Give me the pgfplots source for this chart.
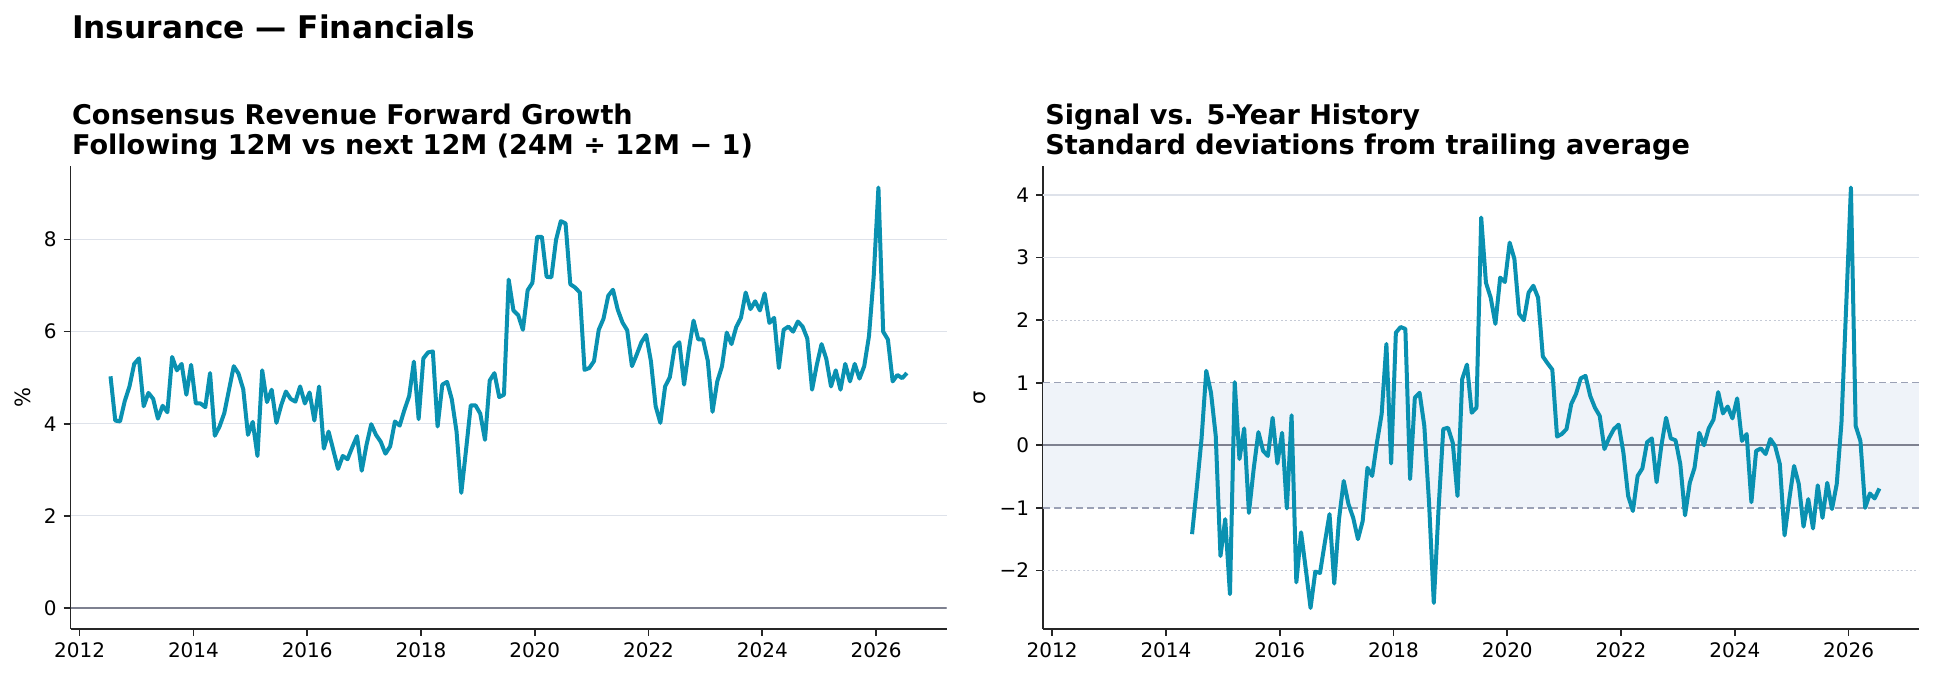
\documentclass[border=0pt]{standalone}
\usepackage{fontspec}
\setmainfont{DejaVu Sans}
\usepackage{pgfplots}
\usepackage{pgfplotstable}
\pgfplotsset{compat=1.18}
\definecolor{linecol}{HTML}{0A91B1}
\definecolor{gridcol}{HTML}{DEE2EA}
\definecolor{zerocol}{HTML}{7E8190}
\definecolor{bandcol}{HTML}{EFF3F9}
\definecolor{dashcol}{HTML}{9BA1B5}
\definecolor{dotcol}{HTML}{C5CAD6}
\definecolor{spinecol}{HTML}{262626}

% monthly values, first month = Jul 2012
\pgfplotstableread{
v
5.03
4.07
4.05
4.49
4.81
5.30
5.42
4.38
4.67
4.54
4.11
4.39
4.25
5.45
5.16
5.30
4.63
5.28
4.44
4.44
4.36
5.10
3.74
3.94
4.23
4.74
5.25
5.09
4.75
3.76
4.04
3.30
5.16
4.47
4.74
4.02
4.40
4.70
4.54
4.48
4.81
4.44
4.68
4.07
4.81
3.46
3.83
3.43
3.02
3.30
3.23
3.49
3.73
2.98
3.54
3.99
3.76
3.61
3.35
3.51
4.05
3.96
4.30
4.60
5.35
4.10
5.42
5.55
5.57
3.94
4.85
4.91
4.53
3.83
2.50
3.43
4.40
4.40
4.22
3.65
4.94
5.10
4.58
4.63
7.13
6.46
6.36
6.04
6.90
7.06
8.06
8.06
7.19
7.18
8.00
8.40
8.35
7.03
6.96
6.85
5.17
5.21
5.36
6.04
6.28
6.78
6.91
6.48
6.20
6.03
5.25
5.50
5.77
5.93
5.36
4.38
4.02
4.81
5.01
5.66
5.77
4.85
5.61
6.24
5.83
5.83
5.37
4.26
4.92
5.25
5.98
5.73
6.10
6.30
6.85
6.49
6.66
6.46
6.83
6.19
6.30
5.21
6.04
6.11
6.00
6.22
6.11
5.85
4.74
5.28
5.73
5.41
4.81
5.16
4.74
5.30
4.92
5.30
4.98
5.25
5.90
7.20
9.13
6.00
5.83
4.92
5.06
4.99
5.10
}\growth

% monthly values, first month = Jun 2014
\pgfplotstableread{
v
-1.42
-0.68
0.10
1.19
0.84
0.15
-1.77
-1.18
-2.38
1.01
-0.22
0.27
-1.08
-0.38
0.21
-0.09
-0.17
0.44
-0.29
0.20
-1.01
0.48
-2.19
-1.39
-1.98
-2.60
-2.02
-2.04
-1.56
-1.10
-2.21
-1.18
-0.57
-0.94
-1.16
-1.50
-1.21
-0.36
-0.49
0.04
0.50
1.62
-0.29
1.80
1.89
1.86
-0.54
0.76
0.84
0.31
-0.92
-2.52
-1.02
0.26
0.28
0.04
-0.81
1.06
1.29
0.52
0.60
3.64
2.60
2.36
1.94
2.68
2.61
3.24
2.98
2.10
2.00
2.44
2.55
2.36
1.42
1.31
1.21
0.14
0.18
0.26
0.66
0.82
1.07
1.11
0.79
0.60
0.47
-0.06
0.12
0.26
0.33
-0.12
-0.81
-1.05
-0.49
-0.37
0.05
0.11
-0.59
-0.01
0.44
0.11
0.08
-0.30
-1.12
-0.60
-0.36
0.20
0.00
0.27
0.41
0.85
0.51
0.62
0.43
0.75
0.07
0.18
-0.91
-0.09
-0.05
-0.14
0.10
-0.01
-0.30
-1.44
-0.86
-0.33
-0.62
-1.30
-0.86
-1.33
-0.64
-1.16
-0.60
-1.02
-0.62
0.36
2.23
4.12
0.31
0.07
-1.00
-0.77
-0.85
-0.69
}\signal

\pgfplotsset{panel/.style={
  scale only axis, width=438pt, height=231.25pt,
  axis x line*=bottom, axis y line*=left,
  axis line style={-, draw=spinecol, line width=0.8pt},
  xmin=2011.842, xmax=2027.242,
  xtick={2012,2014,2016,2018,2020,2022,2024,2026},
  xticklabels={2012,2014,2016,2018,2020,2022,2024,2026},
  tick align=outside, major tick length=3.5pt,
  tick style={draw=spinecol, line width=0.8pt},
  ticklabel style={font=\fontsize{10}{12}\selectfont, text=black},
  ylabel style={font=\fontsize{10.5}{12}\selectfont, anchor=center},
  clip=true,
}}

\begin{document}
\begin{tikzpicture}
\path[use as bounding box] (0,0) rectangle (967pt,339.5pt);

\begin{axis}[panel, at={(35.35pt,25pt)}, anchor=south west,
  ymin=-0.457, ymax=9.587,
  ytick={0,2,4,6,8}, yticklabels={0,2,4,6,8},
  ymajorgrids, grid style={draw=gridcol, line width=0.6pt},
  ylabel={\%}, ylabel style={at={(axis description cs:-0.0546,0.5)}}]
\draw[zerocol, line width=1pt] (axis cs:2011.842,0) -- (axis cs:2027.242,0);
\addplot[linecol, line width=2pt, line join=round, mark=none]
  table[x expr={2012.542+\coordindex/12}, y=v] {\growth};
\end{axis}

\begin{axis}[panel, at={(521.6pt,25pt)}, anchor=south west,
  ymin=-2.936, ymax=4.456,
  ytick={-2,-1,0,1,2,3,4}, yticklabels={−2,−1,0,1,2,3,4},
  ylabel={σ}, ylabel style={at={(axis description cs:-0.0725,0.5)}}]
\fill[bandcol] (axis cs:2011.842,-1) rectangle (axis cs:2027.242,1);
\draw[gridcol, line width=0.6pt] (axis cs:2011.842,3) -- (axis cs:2027.242,3);
\draw[gridcol, line width=0.6pt] (axis cs:2011.842,4) -- (axis cs:2027.242,4);
\draw[dotcol, line width=0.6pt, dash pattern=on 1pt off 1.2pt] (axis cs:2011.842,2) -- (axis cs:2027.242,2);
\draw[dotcol, line width=0.6pt, dash pattern=on 1pt off 1.2pt] (axis cs:2011.842,-2) -- (axis cs:2027.242,-2);
\draw[dashcol, line width=0.7pt, dash pattern=on 3.5pt off 2pt] (axis cs:2011.842,1) -- (axis cs:2027.242,1);
\draw[dashcol, line width=0.7pt, dash pattern=on 3.5pt off 2pt] (axis cs:2011.842,-1) -- (axis cs:2027.242,-1);
\draw[zerocol, line width=1pt] (axis cs:2011.842,0) -- (axis cs:2027.242,0);
\addplot[linecol, line width=2pt, line join=round, mark=none]
  table[x expr={2012.542+(\coordindex+23)/12}, y=v] {\signal};
\end{axis}

\node[anchor=base west, inner sep=0pt, font=\fontsize{15.6}{19}\selectfont\bfseries] at (35.85pt,320.35pt) {Insurance — Financials};
\node[anchor=base west, inner sep=0pt, font=\fontsize{13.55}{16}\selectfont\bfseries] at (35.85pt,277pt) {Consensus Revenue Forward Growth};
\node[anchor=base west, inner sep=0pt, font=\fontsize{13.55}{16}\selectfont\bfseries] at (35.85pt,262pt) {Following 12M vs next 12M (24M ÷ 12M − 1)};
\node[anchor=base west, inner sep=0pt, font=\fontsize{13.55}{16}\selectfont\bfseries] at (522.5pt,277pt) {Signal vs. 5-Year History};
\node[anchor=base west, inner sep=0pt, font=\fontsize{13.55}{16}\selectfont\bfseries] at (522.5pt,262pt) {Standard deviations from trailing average};
\end{tikzpicture}
\end{document}
